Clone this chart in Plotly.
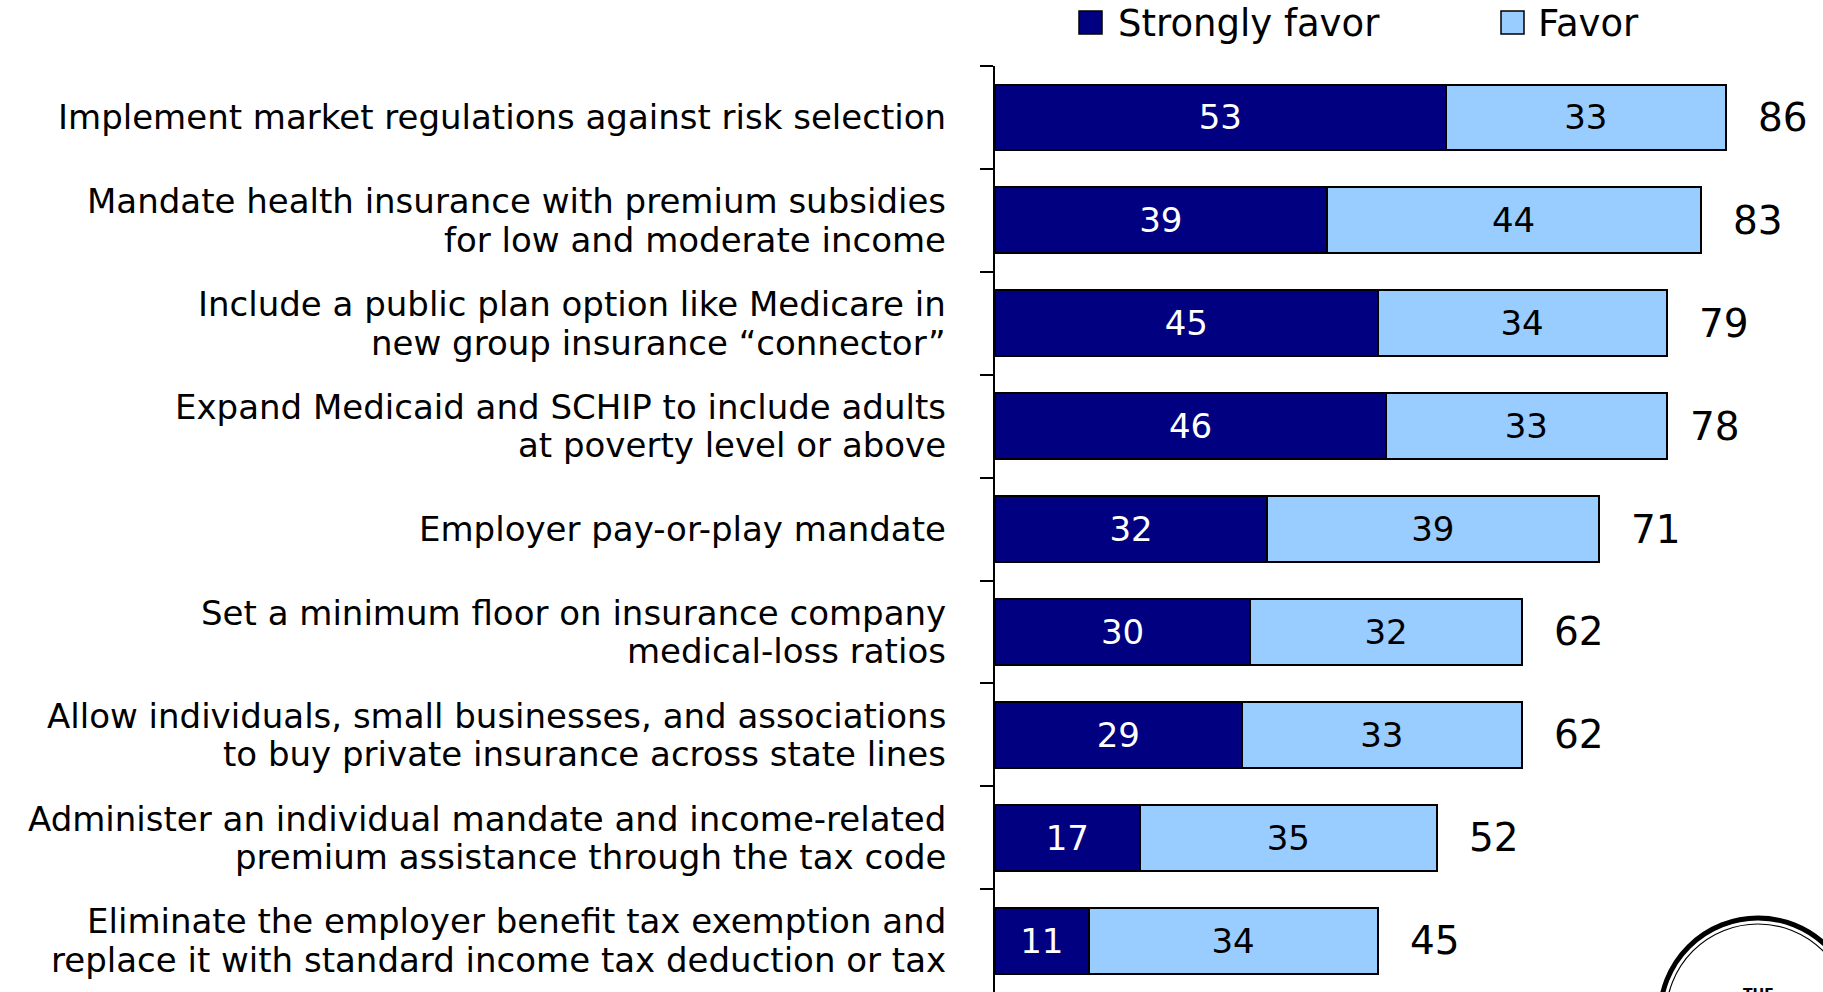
import plotly.graph_objects as go

categories = [
    "Implement market regulations against risk selection",
    "Mandate health insurance with premium subsidies<br>for low and moderate income",
    "Include a public plan option like Medicare in<br>new group insurance “connector”",
    "Expand Medicaid and SCHIP to include adults<br>at poverty level or above",
    "Employer pay-or-play mandate",
    "Set a minimum floor on insurance company<br>medical-loss ratios",
    "Allow individuals, small businesses, and associations<br>to buy private insurance across state lines",
    "Administer an individual mandate and income-related<br>premium assistance through the tax code",
    "Eliminate the employer benefit tax exemption and<br>replace it with standard income tax deduction or tax",
]
strongly_favor = [53, 39, 45, 46, 32, 30, 29, 17, 11]
favor = [33, 44, 34, 33, 39, 32, 33, 35, 34]
totals = [86, 83, 79, 78, 71, 62, 62, 52, 45]
series_names = ["Strongly favor", "Favor"]

FONT = "DejaVu Sans"
W, H = 1823, 992
L, R, T, B = 995, 3, 66, 0
PW = W - L - R
PH = H - T - B
PX_PER_UNIT = 8.5
XMAX = PW / PX_PER_UNIT
ROW_PX = 102.9

NAVY = "#000080"
LIGHT = "#99CCFF"


def px_x(sx):
    return (sx - L) / PW


def px_y(sy):
    return (H - B - sy) / PH


ypos = list(range(len(categories)))

fig = go.Figure()
fig.add_trace(go.Bar(
    y=ypos, x=strongly_favor, orientation="h", name=series_names[0],
    marker=dict(color=NAVY, line=dict(color="black", width=2)),
    text=strongly_favor, textposition="inside", insidetextanchor="middle",
    textangle=0, constraintext="none",
    textfont=dict(family=FONT, size=34, color="white"),
    width=0.64, hoverinfo="skip",
))
fig.add_trace(go.Bar(
    y=ypos, x=favor, orientation="h", name=series_names[1],
    marker=dict(color=LIGHT, line=dict(color="black", width=2)),
    text=favor, textposition="inside", insidetextanchor="middle",
    textangle=0, constraintext="none",
    textfont=dict(family=FONT, size=34, color="black"),
    width=0.64, hoverinfo="skip",
))

annotations = []
LINE_GAP = 38.5
for i, cat in enumerate(categories):
    lines = cat.split("<br>")
    n = len(lines)
    for j, line in enumerate(lines):
        annotations.append(dict(
            x=0, xref="paper", xanchor="right", xshift=-47,
            y=i, yref="y", yanchor="middle",
            yshift=((n - 1) / 2 - j) * LINE_GAP,
            text=line, showarrow=False,
            font=dict(family=FONT, size=34, color="black"),
        ))
for i, tot in enumerate(totals):
    annotations.append(dict(
        x=tot, xref="x", xanchor="left", xshift=30,
        y=i, yref="y", yanchor="middle",
        text=str(tot), showarrow=False,
        font=dict(family=FONT, size=39, color="black"),
    ))

# legend (drawn manually to match marker size)
shapes = []
legend_items = [(series_names[0], NAVY, 1079, 1116), (series_names[1], LIGHT, 1501, 1536)]
for name, col, sx, tx in legend_items:
    shapes.append(dict(
        type="rect", xref="paper", yref="paper",
        x0=px_x(sx), x1=px_x(sx + 23), y0=px_y(34), y1=px_y(11),
        fillcolor=col, line=dict(color="black", width=1.5),
    ))
    annotations.append(dict(
        x=px_x(tx), xref="paper", xanchor="left",
        y=px_y(23), yref="paper", yanchor="middle",
        text=name, showarrow=False,
        font=dict(family=FONT, size=37, color="black"),
    ))

# partial logo circle at bottom right
cx, cy, r = 1758, 1016, 98
shapes.append(dict(
    type="circle", xref="paper", yref="paper",
    x0=px_x(cx - r), x1=px_x(cx + r), y0=px_y(cy + r), y1=px_y(cy - r),
    line=dict(color="black", width=5),
))
r2 = 92
shapes.append(dict(
    type="circle", xref="paper", yref="paper",
    x0=px_x(cx - r2), x1=px_x(cx + r2), y0=px_y(cy + r2), y1=px_y(cy - r2),
    line=dict(color="black", width=1.2),
))
annotations.append(dict(
    x=px_x(cx), xref="paper", xanchor="center",
    y=px_y(983), yref="paper", yanchor="top",
    text="<b>THE</b>", showarrow=False,
    font=dict(family=FONT, size=14, color="black"),
))

fig.update_layout(
    width=W, height=H,
    margin=dict(l=L, r=R, t=T, b=B, pad=0),
    barmode="stack",
    showlegend=False,
    paper_bgcolor="white", plot_bgcolor="white",
    annotations=annotations, shapes=shapes,
    xaxis=dict(range=[0, XMAX], visible=False, fixedrange=True),
    yaxis=dict(
        range=[-0.5 + PH / ROW_PX, -0.5],
        tickvals=[k - 0.5 for k in range(len(categories) + 1)],
        ticks="outside", ticklen=13, tickwidth=1.5, tickcolor="black",
        showticklabels=False, showline=True, linewidth=2, linecolor="black",
        showgrid=False, zeroline=False, fixedrange=True,
    ),
)

fig.write_html(
    "out.html",
    config={"displayModeBar": False},
    post_script="document.body.style.margin='0px';document.body.style.overflow='hidden';",
)
